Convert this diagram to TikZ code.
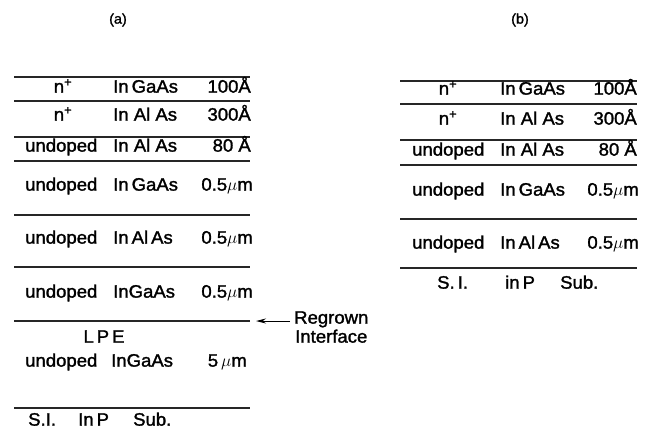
\documentclass[tikz,border=0pt]{standalone}
\usepackage{fontspec}
\setmainfont{Liberation Sans}[FakeStretch=1.03, FakeBold=1.5]
\usetikzlibrary{arrows.meta, positioning}

\begin{document}
\begin{tikzpicture}[
    x=1pt, y=-1pt,
    lbl/.style ={inner sep=0pt, font=\fontsize{18}{20}\selectfont},
    captxt/.style={inner sep=0pt, font=\fontsize{14}{16}\selectfont},
    layer/.style={line width=1.4pt, black!85},
    arr/.style ={-{Stealth[length=10pt, width=5pt]}, line width=1pt},
]
  \useasboundingbox (0,0) rectangle (650,431);

  %% ---- captions ----
  \node[captxt] (capa) at (118, 20) {(a)};
  \node[captxt] (capb) at (520, 20) {(b)};

  %% ---- stack (a): layer boundaries ----
  \foreach \yy in {77, 101, 137, 161, 215, 267, 321, 408}
    \draw[layer] (14,\yy) -- (250,\yy);

  %% ---- stack (a): layers ----
  \node[lbl, anchor=mid]      (a1d) at (63, 90)  {n\textsuperscript{+}};
  \node[lbl, anchor=mid west] (a1m) at (113, 90) {In\,GaAs};
  \node[lbl, anchor=mid east] (a1t) at (251, 90) {100Å};

  \node[lbl, anchor=mid]      (a2d) at (63, 118)  {n\textsuperscript{+}};
  \node[lbl, anchor=mid west] (a2m) at (113, 118) {In Al As};
  \node[lbl, anchor=mid east] (a2t) at (251, 118) {300Å};

  \node[lbl, anchor=mid west] (a3d) at (25, 149)  {undoped};
  \node[lbl, anchor=mid west] (a3m) at (113, 149) {In Al As};
  \node[lbl, anchor=mid east] (a3t) at (251, 149) {80 Å};

  \node[lbl, anchor=mid west] (a4d) at (25, 188)  {undoped};
  \node[lbl, anchor=mid west] (a4m) at (113, 188) {In\,GaAs};
  \node[lbl, anchor=mid east] (a4t) at (253, 188) {0.5$\mu$m};

  \node[lbl, anchor=mid west] (a5d) at (25, 241)  {undoped};
  \node[lbl, anchor=mid west] (a5m) at (113, 241) {In\,Al\,As};
  \node[lbl, anchor=mid east] (a5t) at (253, 241) {0.5$\mu$m};

  \node[lbl, anchor=mid west] (a6d) at (25, 295)  {undoped};
  \node[lbl, anchor=mid west] (a6m) at (113, 295) {InGaAs};
  \node[lbl, anchor=mid east] (a6t) at (253, 295) {0.5$\mu$m};

  \node[lbl, anchor=mid]      (lpe) at (104, 340) {L\,P\,E};
  \node[lbl, anchor=mid west] (a7d) at (25, 364)  {undoped};
  \node[lbl, anchor=mid west] (a7m) at (111, 364) {InGaAs};
  \node[lbl, anchor=mid east] (a7t) at (247, 364) {5\,$\mu$m};

  \node[lbl, anchor=mid west] (asi)  at (28, 423)  {S.I.};
  \node[lbl, anchor=mid west] (ainp) at (78, 423)  {In\,P};
  \node[lbl, anchor=mid west] (asub) at (133, 423) {Sub.};

  %% ---- regrown interface marker ----
  \coordinate (rgtip) at (256, 321);
  \node[lbl, anchor=mid west] (regrown) at (294, 321) {Regrown};
  \node[lbl, anchor=mid west] (iface)   at (295, 340) {Interface};
  \draw[arr] (regrown.mid west) ++(-4,0) -- (rgtip);

  %% ---- stack (b): layer boundaries ----
  \foreach \yy in {81, 104, 140, 165, 219, 268}
    \draw[layer] (400,\yy) -- (637,\yy);

  %% ---- stack (b): layers ----
  \node[lbl, anchor=mid]      (b1d) at (448, 92)  {n\textsuperscript{+}};
  \node[lbl, anchor=mid west] (b1m) at (500, 92)  {In\,GaAs};
  \node[lbl, anchor=mid east] (b1t) at (637, 92)  {100Å};

  \node[lbl, anchor=mid]      (b2d) at (448, 122) {n\textsuperscript{+}};
  \node[lbl, anchor=mid west] (b2m) at (500, 122) {In Al As};
  \node[lbl, anchor=mid east] (b2t) at (637, 122) {300Å};

  \node[lbl, anchor=mid west] (b3d) at (412, 153) {undoped};
  \node[lbl, anchor=mid west] (b3m) at (500, 153) {In Al As};
  \node[lbl, anchor=mid east] (b3t) at (637, 153) {80 Å};

  \node[lbl, anchor=mid west] (b4d) at (412, 193) {undoped};
  \node[lbl, anchor=mid west] (b4m) at (500, 193) {In\,GaAs};
  \node[lbl, anchor=mid east] (b4t) at (639, 193) {0.5$\mu$m};

  \node[lbl, anchor=mid west] (b5d) at (412, 246) {undoped};
  \node[lbl, anchor=mid west] (b5m) at (500, 246) {In\,Al\,As};
  \node[lbl, anchor=mid east] (b5t) at (639, 246) {0.5$\mu$m};

  \node[lbl, anchor=mid west] (bsi)  at (437, 286) {S.\,I.};
  \node[lbl, anchor=mid west] (binp) at (505, 286) {in\,P};
  \node[lbl, anchor=mid west] (bsub) at (560, 286) {Sub.};

\end{tikzpicture}
\end{document}
